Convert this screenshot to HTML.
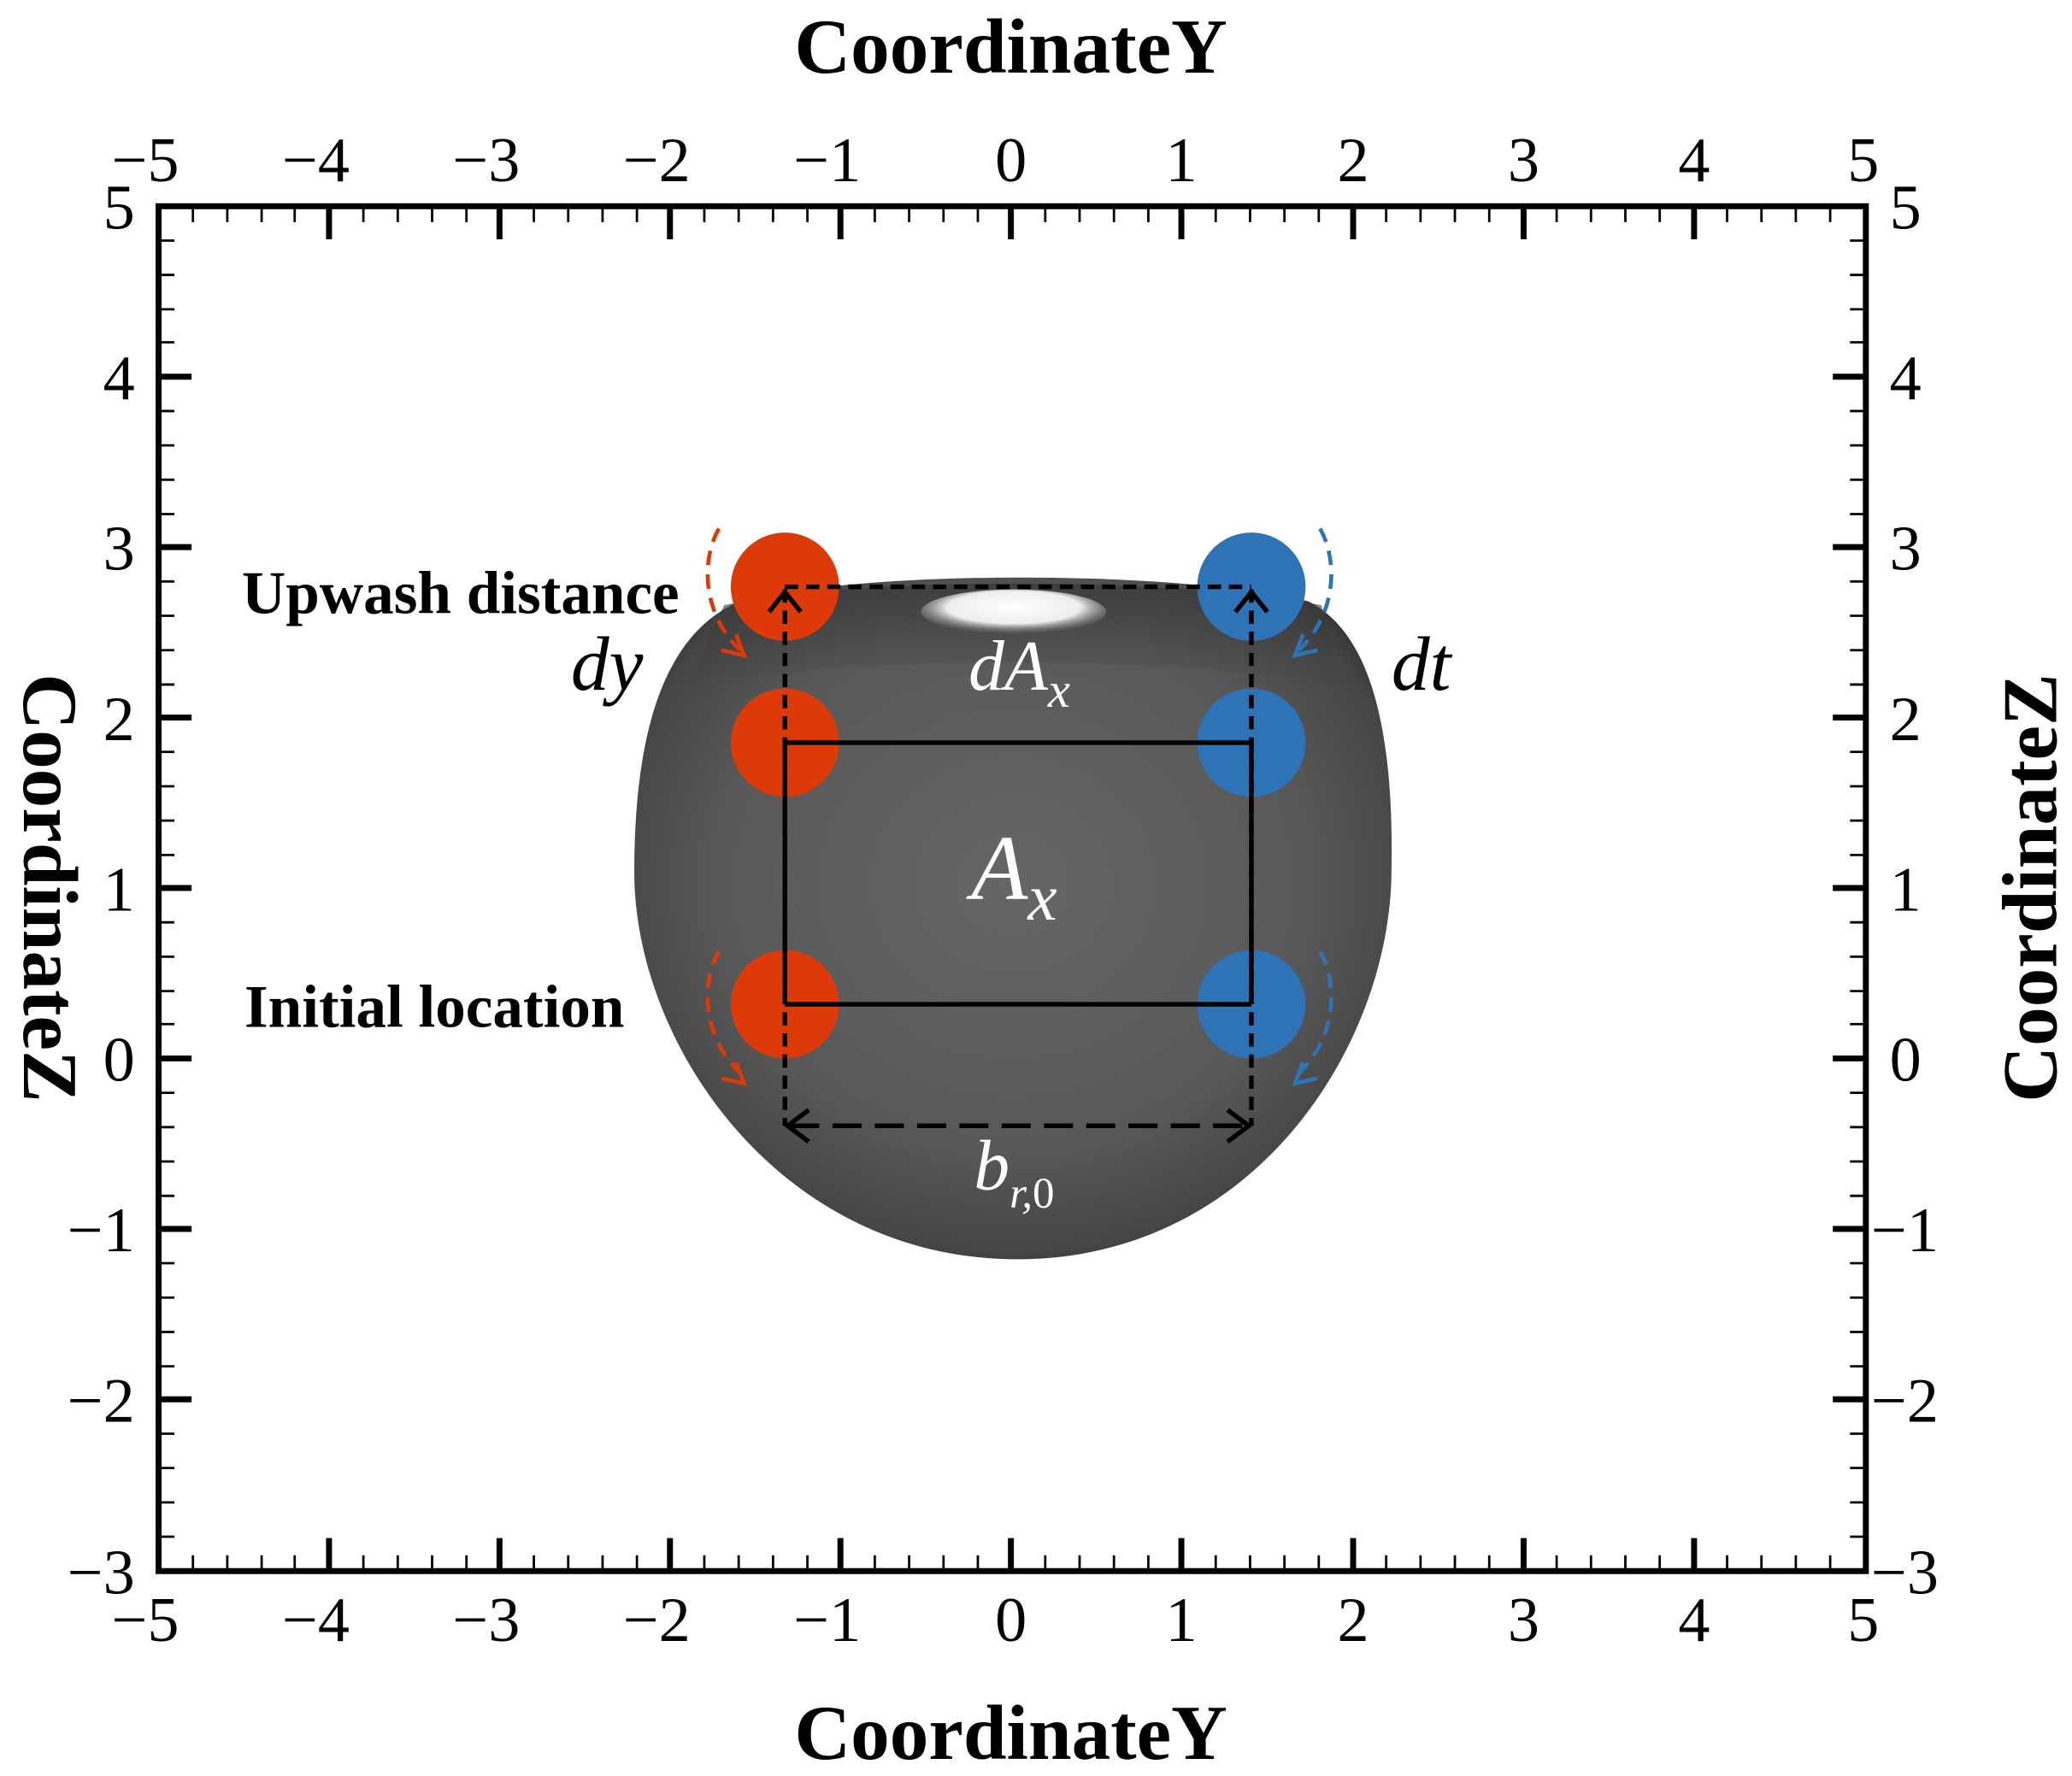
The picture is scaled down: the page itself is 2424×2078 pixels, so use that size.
<!DOCTYPE html>
<html><head><meta charset="utf-8"><style>html,body{margin:0;padding:0;background:#fff}svg{display:block}</style></head>
<body>
<svg width="2424" height="2078" viewBox="0 0 1568 1344" xmlns="http://www.w3.org/2000/svg" font-family="'Liberation Serif', serif">
<defs>
<radialGradient id="g" cx="0.5" cy="0.45" r="0.6">
<stop offset="0" stop-color="#666"/><stop offset="0.65" stop-color="#585858"/><stop offset="0.9" stop-color="#454545"/><stop offset="1" stop-color="#2e2e2e"/>
</radialGradient>
<radialGradient id="h" cx="0.5" cy="0.4" r="0.6">
<stop offset="0" stop-color="#fff"/><stop offset="0.6" stop-color="#eee"/><stop offset="1" stop-color="#777" stop-opacity="0"/>
</radialGradient>
<linearGradient id="t" x1="0" y1="0" x2="0" y2="1">
<stop offset="0" stop-color="#3a3a3a"/><stop offset="1" stop-color="#3a3a3a" stop-opacity="0"/>
</linearGradient>
</defs>
<path d="M560,455 C650,432 880,430 990,455 C1040,480 1055,560 1053,660 C1052,790 950,953 770,953 C590,953 480,790 480,660 C480,560 500,480 560,455 Z" fill="url(#g)"/>
<path d="M548,458 C650,436 880,436 1000,458 L1015,520 C880,495 650,495 520,520 Z" fill="url(#t)" opacity="0.8"/>
<ellipse cx="767" cy="463" rx="70" ry="17" fill="url(#h)"/>
<g fill="#dd3a0a"><circle cx="594" cy="444" r="41"/><circle cx="594" cy="562" r="41"/><circle cx="594" cy="760" r="41"/></g>
<g fill="#2e73b5"><circle cx="947" cy="444" r="41"/><circle cx="947" cy="562" r="41"/><circle cx="947" cy="760" r="41"/></g>
<g stroke="#000" stroke-width="3.5" fill="none">
<line x1="594" y1="562" x2="947" y2="562"/><line x1="594" y1="760" x2="947" y2="760"/>
<line x1="594" y1="562" x2="594" y2="760"/><line x1="947" y1="562" x2="947" y2="760"/>
<g stroke-dasharray="10,6"><line x1="594" y1="446" x2="594" y2="852"/><line x1="947" y1="446" x2="947" y2="852"/><line x1="594" y1="444" x2="947" y2="444"/></g>
<line x1="598" y1="852" x2="943" y2="852" stroke-dasharray="22,10"/>
<polyline points="582,463 594,448 606,463"/><polyline points="935,463 947,448 959,463"/>
<polyline points="612,840 596,852 612,864"/><polyline points="929,840 945,852 929,864"/>
</g>
<g fill="none" stroke-width="3" stroke-dasharray="11,7">
<path d="M544,400 C530,425 532,465 560,492" stroke="#dd3a0a"/>
<path d="M544,720 C530,745 532,785 560,812" stroke="#dd3a0a"/>
<path d="M999,400 C1013,425 1011,465 983,492" stroke="#2e73b5"/>
<path d="M999,720 C1013,745 1011,785 983,812" stroke="#2e73b5"/>
</g>
<g fill="none" stroke-width="3">
<polyline points="546,492 563,496 557,480" stroke="#dd3a0a"/><polyline points="546,816 563,820 557,804" stroke="#dd3a0a"/>
<polyline points="997,492 980,496 986,480" stroke="#2e73b5"/><polyline points="997,816 980,820 986,804" stroke="#2e73b5"/>
</g>
<g font-weight="bold" font-size="46" fill="#000">
<text x="183" y="464">Upwash distance</text>
<text x="185" y="777">Initial location</text>
</g>
<g font-style="italic" font-size="58">
<text x="432" y="522">dy</text><text x="1053" y="522">dt</text>
<text x="733" y="522" fill="#fff" font-size="54">dA<tspan font-size="38" dy="13">x</tspan></text>
<text x="735" y="680" fill="#fff" font-size="70">A<tspan font-size="50" dy="16">x</tspan></text>
<text x="737" y="900" fill="#fff" font-size="54">b<tspan font-size="33" dy="14">r,</tspan><tspan font-style="normal" font-size="33">0</tspan></text>
</g>
<rect x="120" y="156" width="1292" height="1033" fill="none" stroke="#000" stroke-width="4.5"/>
<g stroke="#000" stroke-width="1.8">
<path d="M146,156v12M172,156v12M198,156v12M223,156v12M275,156v12M301,156v12M327,156v12M353,156v12M404,156v12M430,156v12M456,156v12M482,156v12M533,156v12M559,156v12M585,156v12M611,156v12M662,156v12M688,156v12M714,156v12M740,156v12M791,156v12M817,156v12M843,156v12M869,156v12M920,156v12M946,156v12M972,156v12M998,156v12M1049,156v12M1075,156v12M1101,156v12M1127,156v12M1178,156v12M1204,156v12M1230,156v12M1256,156v12M1307,156v12M1333,156v12M1359,156v12M1385,156v12"/>
<path d="M146,1189v-12M172,1189v-12M198,1189v-12M223,1189v-12M275,1189v-12M301,1189v-12M327,1189v-12M353,1189v-12M404,1189v-12M430,1189v-12M456,1189v-12M482,1189v-12M533,1189v-12M559,1189v-12M585,1189v-12M611,1189v-12M662,1189v-12M688,1189v-12M714,1189v-12M740,1189v-12M791,1189v-12M817,1189v-12M843,1189v-12M869,1189v-12M920,1189v-12M946,1189v-12M972,1189v-12M998,1189v-12M1049,1189v-12M1075,1189v-12M1101,1189v-12M1127,1189v-12M1178,1189v-12M1204,1189v-12M1230,1189v-12M1256,1189v-12M1307,1189v-12M1333,1189v-12M1359,1189v-12M1385,1189v-12"/>
<path d="M120,182h12M120,208h12M120,234h12M120,259h12M120,311h12M120,337h12M120,363h12M120,389h12M120,440h12M120,466h12M120,492h12M120,518h12M120,569h12M120,595h12M120,621h12M120,647h12M120,698h12M120,724h12M120,750h12M120,775h12M120,827h12M120,853h12M120,879h12M120,905h12M120,956h12M120,982h12M120,1008h12M120,1034h12M120,1085h12M120,1111h12M120,1137h12M120,1163h12"/>
<path d="M1412,182h-12M1412,208h-12M1412,234h-12M1412,259h-12M1412,311h-12M1412,337h-12M1412,363h-12M1412,389h-12M1412,440h-12M1412,466h-12M1412,492h-12M1412,518h-12M1412,569h-12M1412,595h-12M1412,621h-12M1412,647h-12M1412,698h-12M1412,724h-12M1412,750h-12M1412,775h-12M1412,827h-12M1412,853h-12M1412,879h-12M1412,905h-12M1412,956h-12M1412,982h-12M1412,1008h-12M1412,1034h-12M1412,1085h-12M1412,1111h-12M1412,1137h-12M1412,1163h-12"/>
</g>
<g stroke="#000" stroke-width="4.5">
<path d="M249,156v25M378,156v25M507,156v25M636,156v25M765,156v25M894,156v25M1024,156v25M1153,156v25M1282,156v25"/>
<path d="M249,1189v-25M378,1189v-25M507,1189v-25M636,1189v-25M765,1189v-25M894,1189v-25M1024,1189v-25M1153,1189v-25M1282,1189v-25"/>
<path d="M120,285h25M120,414h25M120,543h25M120,672h25M120,801h25M120,930h25M120,1059h25"/>
<path d="M1412,285h-25M1412,414h-25M1412,543h-25M1412,672h-25M1412,801h-25M1412,930h-25M1412,1059h-25"/>
</g>
<g font-size="48" text-anchor="middle" fill="#000">
<text x="110" y="137">−5</text><text x="239" y="137">−4</text><text x="368" y="137">−3</text><text x="497" y="137">−2</text><text x="626" y="137">−1</text><text x="765" y="137">0</text><text x="894" y="137">1</text><text x="1024" y="137">2</text><text x="1153" y="137">3</text><text x="1282" y="137">4</text><text x="1410" y="137">5</text>
<text x="110" y="1242">−5</text><text x="239" y="1242">−4</text><text x="368" y="1242">−3</text><text x="497" y="1242">−2</text><text x="626" y="1242">−1</text><text x="765" y="1242">0</text><text x="894" y="1242">1</text><text x="1024" y="1242">2</text><text x="1153" y="1242">3</text><text x="1282" y="1242">4</text><text x="1410" y="1242">5</text>
</g>
<g font-size="48" text-anchor="end" fill="#000">
<text x="102" y="173">5</text><text x="102" y="302">4</text><text x="102" y="431">3</text><text x="102" y="560">2</text><text x="102" y="689">1</text><text x="102" y="818">0</text><text x="102" y="947">−1</text><text x="102" y="1076">−2</text><text x="102" y="1206">−3</text>
</g>
<g font-size="48" text-anchor="start" fill="#000">
<text x="1430" y="173">5</text><text x="1430" y="302">4</text><text x="1430" y="431">3</text><text x="1430" y="560">2</text><text x="1430" y="689">1</text><text x="1430" y="818">0</text><text x="1416" y="947">−1</text><text x="1416" y="1076">−2</text><text x="1416" y="1206">−3</text>
</g>
<g font-size="59" font-weight="bold" text-anchor="middle" fill="#000">
<text x="765" y="55">CoordinateY</text>
<text x="765" y="1331">CoordinateY</text>
<text transform="translate(18,672) rotate(90)">CoordinateZ</text>
<text transform="translate(1556,672) rotate(-90)">CoordinateZ</text>
</g>
</svg>
</body></html>
